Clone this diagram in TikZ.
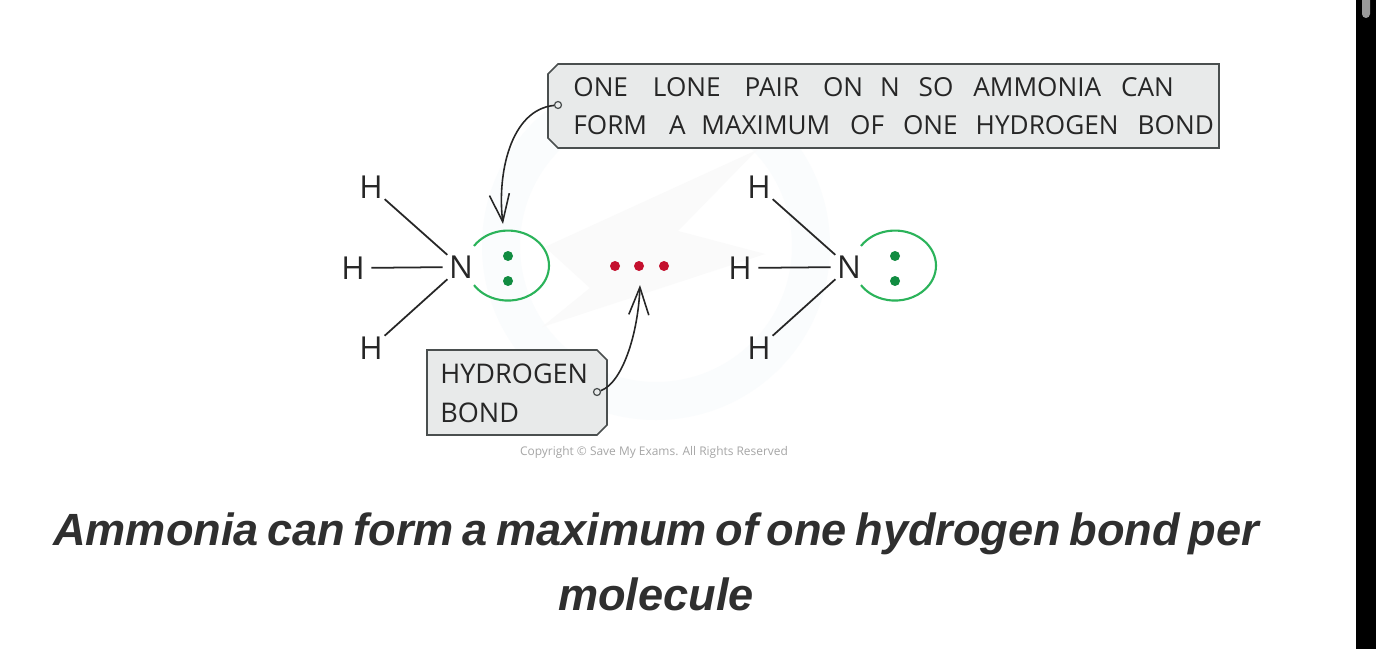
\documentclass[tikz,border=0pt]{standalone}
\usepackage{fontspec}
\setmainfont{Open Sans}
\newfontfamily\titlefont{Liberation Sans}[WordSpace=0.68]
\usetikzlibrary{arrows.meta}
\definecolor{boxfill}{HTML}{E8EAEA}
\definecolor{boxline}{HTML}{4A4F4F}
\definecolor{pairgreen}{HTML}{2BB35A}
\definecolor{dotgreen}{HTML}{118C41}
\definecolor{dotred}{HTML}{C4102E}
\definecolor{inkgrey}{HTML}{2F2F2F}
\definecolor{markblue}{HTML}{FAFCFD}
\definecolor{markgrey}{HTML}{FAFAFA}
\tikzset{
	atom/.style={circle,inner sep=0pt,minimum size=0.72cm,text=black!85,font=\fontsize{18}{18}\selectfont},
	bond/.style={line width=1pt,black!85},
	pairarc/.style={line width=1.2pt,pairgreen},
	greendot/.style={circle,fill=dotgreen,inner sep=0pt,minimum size=0.2cm},
	reddot/.style={circle,fill=dotred,inner sep=0pt,minimum size=0.2cm},
	callout/.style={draw=boxline,fill=boxfill,line width=0.9pt},
	calltext/.style={anchor=west,align=left,inner sep=0pt,text=black!85,font=\fontsize{14.9}{21.5}\selectfont},
	pin/.style={circle,draw=boxline,fill=boxfill,line width=0.7pt,inner sep=0pt,minimum size=0.14cm},
	pointer/.style={line width=0.9pt,black!85,-{Straight Barb[length=5.5mm,width=4mm]}},
}
\begin{document}
\begin{tikzpicture}[x=0.02cm,y=-0.02cm]
	\useasboundingbox (0,0) rectangle (1376,649);
	\fill[white] (0,0) rectangle (1376,649);
	\draw[markblue,line width=0.76cm] (656,246) circle[radius=155];
	\fill[markgrey] (545,247) -- (757,150) -- (678,231) -- (765,254) -- (542,327) -- (590,288) -- cycle;

	\draw[callout] (558,64) -- (1219,64) -- (1219,148) -- (558,148) -- (548,138) -- (548,74) -- cycle;
	\node[calltext] (pairtext) at (573,106) {ONE\hspace{14.2pt}LONE\hspace{13.6pt}PAIR\hspace{13.6pt}ON\hspace{9.7pt}N\hspace{10.7pt}SO\hspace{11.3pt}AMMONIA\hspace{11.3pt}CAN\\FORM\hspace{12.5pt}A\hspace{9pt}MAXIMUM\hspace{11.3pt}OF\hspace{10.8pt}ONE\hspace{10.2pt}HYDROGEN\hspace{10.8pt}BOND};
	\node[pin] (pairpin) at (558,105) {};
	\coordinate (pairtip) at (503,224);
	\draw[pointer] (pairpin) .. controls (510,110) and (497,175) .. (pairtip);

	\draw[callout] (427,350) -- (597,350) -- (607,360) -- (607,425) -- (597,435) -- (427,435) -- cycle;
	\node[calltext,font=\fontsize{15.4}{22}\selectfont] (bondtext) at (440,393.5) {HYDROGEN\\BOND};
	\node[pin] (bondpin) at (597,392) {};
	\coordinate (bondtip) at (640,285);
	\draw[pointer] (bondpin) .. controls (622,383) and (638,335) .. (bondtip);

	\node[atom] (Na) at (461,267) {N};
	\node[atom] (Ha) at (371,187) {H};
	\node[atom] (Hb) at (353,268) {H};
	\node[atom] (Hc) at (371,348) {H};
	\draw[bond] (Ha)--(Na);
	\draw[bond] (Hb)--(Na);
	\draw[bond] (Hc)--(Na);
	\draw[pairarc] (474,246) arc[start angle=-146,end angle=146,x radius=41,y radius=35];
	\node[greendot] (pa) at (508,256) {};
	\node[greendot] (qa) at (508,281) {};

	\node[atom] (Nb) at (849,267) {N};
	\node[atom] (Hd) at (759,187) {H};
	\node[atom] (He) at (740,268) {H};
	\node[atom] (Hf) at (759,348) {H};
	\draw[bond] (Hd)--(Nb);
	\draw[bond] (He)--(Nb);
	\draw[bond] (Hf)--(Nb);
	\draw[pairarc] (861,246) arc[start angle=-146,end angle=146,x radius=41,y radius=35];
	\node[greendot] (pb) at (895,256) {};
	\node[greendot] (qb) at (895,281) {};

	\node[reddot] (ra) at (615,266) {};
	\node[reddot] (rb) at (639,266) {};
	\node[reddot] (rc) at (664,266) {};

	\node[inner sep=0pt,text=black!35,font=\fontsize{6.8}{9}\selectfont] (copyright) at (654,452) {Copyright © Save My Exams. All Rights Reserved};
	\node[align=center,inner sep=0pt,text=inkgrey,font=\titlefont\bfseries\itshape\fontsize{25.7}{37}\selectfont] (caption) at (656,562) {Ammonia can form a maximum of one hydrogen bond per\\molecule};

	\fill[black] (1356,0) rectangle (1376,649);
	\fill[black!40,rounded corners=0.08cm] (1362,-10) rectangle (1370,18);
\end{tikzpicture}
\end{document}
